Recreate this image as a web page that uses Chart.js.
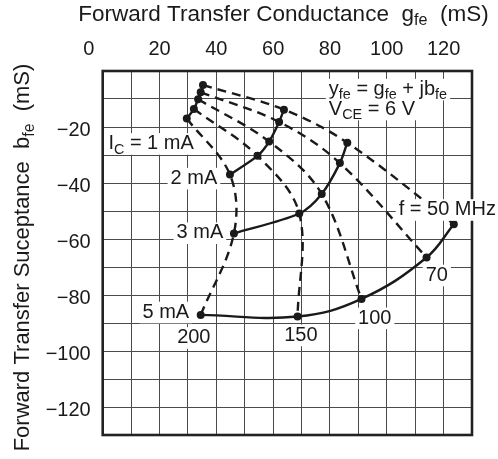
<!DOCTYPE html>
<html>
<head>
<meta charset="utf-8">
<script src="https://cdn.jsdelivr.net/npm/chart.js@4.4.1/dist/chart.umd.min.js"></script>
<style>
html,body{margin:0;padding:0;background:#fff;}
canvas{display:block;}
</style>
</head>
<body>
<canvas id="c" width="498" height="459"></canvas>
<script>
// ---- data ----
const freqsMHz = [50, 70, 100, 150, 200];
const currents = ['1 mA', '2 mA', '3 mA', '5 mA'];
const g_1mA = [35.3, 34.5, 33.6, 32.1, 29.6];
const b_1mA = [-5.0, -7.6, -10.1, -13.6, -17.0];
const g_2mA = [63.8, 62.1, 58.6, 54.5, 44.8];
const b_2mA = [-13.8, -18.2, -25.2, -30.3, -37.0];
const g_3mA = [86.1, 83.5, 77.1, 69.2, 46.2];
const b_3mA = [-25.6, -32.9, -43.9, -50.9, -58.0];
const g_5mA = [123.6, 114.0, 91.1, 68.6, 34.5];
const b_5mA = [-54.7, -66.6, -81.4, -87.7, -87.1];
const xTickValues = [0, 20, 40, 60, 80, 100, 120];
const yTickValues = [-20, -40, -60, -80, -100, -120];

const gSets = [g_1mA, g_2mA, g_3mA, g_5mA];
const bSets = [b_1mA, b_2mA, b_3mA, b_5mA];
const solidTension = [0.2, 0.25, 0.3, 0.4];

const FONT = "'Liberation Sans', Arial, Helvetica, sans-serif";
const INK = '#1a1a1a';

// constant-frequency curves (dashed)
const dashed = freqsMHz.map((f, i) => ({
  label: f + ' MHz',
  data: gSets.map((g, k) => ({x: g[i], y: bSets[k][i]})),
  showLine: true,
  borderColor: INK,
  borderWidth: 2.4,
  borderDash: [9, 6],
  tension: 0.35,
  pointRadius: 0
}));
// constant-current curves (solid)
const solid = currents.map((c, k) => ({
  label: 'IC = ' + c,
  data: freqsMHz.map((f, i) => ({x: gSets[k][i], y: bSets[k][i]})),
  showLine: true,
  borderColor: INK,
  borderWidth: 2.4,
  tension: solidTension[k],
  pointRadius: 4,
  pointBackgroundColor: INK,
  pointBorderColor: INK,
  pointBorderWidth: 0
}));

// annotation texts (segments, sub = subscript) with anchor in data units
const annotations = [
  {segs: [{t: 'I'}, {t: 'C', sub: true}, {t: ' = 1 mA'}], x: 2.0, y: -27.9},
  {segs: [{t: '2 mA'}], x: 23.9, y: -40.3},
  {segs: [{t: '3 mA'}], x: 26.0, y: -59.8},
  {segs: [{t: '5 mA'}], x: 14.0, y: -88.1},
  {segs: [{t: '200'}], x: 26.2, y: -97.2},
  {segs: [{t: '150'}], x: 63.9, y: -96.3},
  {segs: [{t: '100'}], x: 89.9, y: -90.2},
  {segs: [{t: '70'}], x: 113.7, y: -74.9},
  {segs: [{t: 'f = 50 MHz'}], x: 104.2, y: -51.5},
  {segs: [{t: 'y'}, {t: 'fe', sub: true}, {t: ' = g'}, {t: 'fe', sub: true}, {t: ' + jb'}, {t: 'fe', sub: true}], x: 79.6, y: -8.5},
  {segs: [{t: 'V'}, {t: 'CE', sub: true}, {t: ' = 6 V'}], x: 79.6, y: -15.6}
];

function setFont(ctx, size, sub) {
  ctx.font = (sub ? size * 0.72 : size) + 'px ' + FONT;
}
function measureRich(ctx, segs, size) {
  let w = 0;
  segs.forEach(s => { setFont(ctx, size, s.sub); w += ctx.measureText(s.t).width; });
  return w;
}
function drawRich(ctx, segs, x, y, size, bg) {
  const w = measureRich(ctx, segs, size);
  if (bg) {
    ctx.fillStyle = '#fff';
    ctx.fillRect(x - 3, y - size * 0.8, w + 6, size * 1.08);
  }
  ctx.fillStyle = INK;
  ctx.textAlign = 'left';
  ctx.textBaseline = 'alphabetic';
  let cx = x;
  segs.forEach(s => {
    setFont(ctx, size, s.sub);
    ctx.fillText(s.t, cx, s.sub ? y + size * 0.22 : y);
    cx += ctx.measureText(s.t).width;
  });
  return w;
}

const decor = {
  id: 'decor',
  beforeDatasetsDraw(chart) {
    const {ctx, chartArea: a} = chart;
    ctx.save();
    ctx.strokeStyle = '#222';
    ctx.lineWidth = 2.6;
    ctx.strokeRect(a.left, a.top, a.right - a.left, a.bottom - a.top);
    ctx.restore();
  },
  afterDatasetsDraw(chart) {
    const {ctx, scales} = chart;
    ctx.save();
    annotations.forEach(an => {
      drawRich(ctx, an.segs, scales.x.getPixelForValue(an.x), scales.y.getPixelForValue(an.y), 20, true);
    });
    ctx.restore();
  },
  afterDraw(chart) {
    const {ctx} = chart;
    ctx.save();
    // top axis title
    const topSegs = [{t: 'Forward Transfer Conductance  g'}, {t: 'fe', sub: true}, {t: '  (mS)'}];
    const tw = measureRich(ctx, topSegs, 22.5);
    drawRich(ctx, topSegs, 283.5 - tw / 2, 20.5, 22.5, false);
    // left axis title (rotated)
    const leftSegs = [{t: 'Forward Transfer Suceptance  b'}, {t: 'fe', sub: true}, {t: '  (mS)'}];
    const lw = measureRich(ctx, leftSegs, 22);
    ctx.translate(29, 257.5);
    ctx.rotate(-Math.PI / 2);
    drawRich(ctx, leftSegs, -lw / 2, 0, 22, false);
    ctx.restore();
  }
};

new Chart(document.getElementById('c'), {
  type: 'scatter',
  data: {datasets: [...solid, ...dashed]},
  options: {
    responsive: false,
    animation: false,
    devicePixelRatio: 1,
    layout: {padding: {left: 0, top: 0, right: 26, bottom: 20.5}},
    plugins: {legend: {display: false}, tooltip: {enabled: false}},
    scales: {
      x: {
        type: 'linear', position: 'top', min: 0, max: 130,
        ticks: {
          stepSize: 10, autoSkip: false, maxRotation: 0, padding: 10,
          color: INK, font: {size: 20, family: FONT},
          callback: v => xTickValues.includes(v) ? (v === 0 ? '0     ' : String(v)) : ''
        },
        grid: {color: '#4a4a4a', lineWidth: 1, drawTicks: false},
        border: {display: false},
        afterFit(s) { s.height = 71; }
      },
      y: {
        type: 'linear', min: -130, max: 0,
        ticks: {
          stepSize: 10, autoSkip: false, padding: 12, labelOffset: 3,
          color: INK, font: {size: 20, family: FONT},
          callback: v => yTickValues.includes(v) ? '\u2212' + Math.abs(v) : ''
        },
        grid: {color: '#4a4a4a', lineWidth: 1, drawTicks: false},
        border: {display: false},
        afterFit(s) { s.width = 102.7; }
      }
    }
  },
  plugins: [decor]
});
</script>
</body>
</html>
